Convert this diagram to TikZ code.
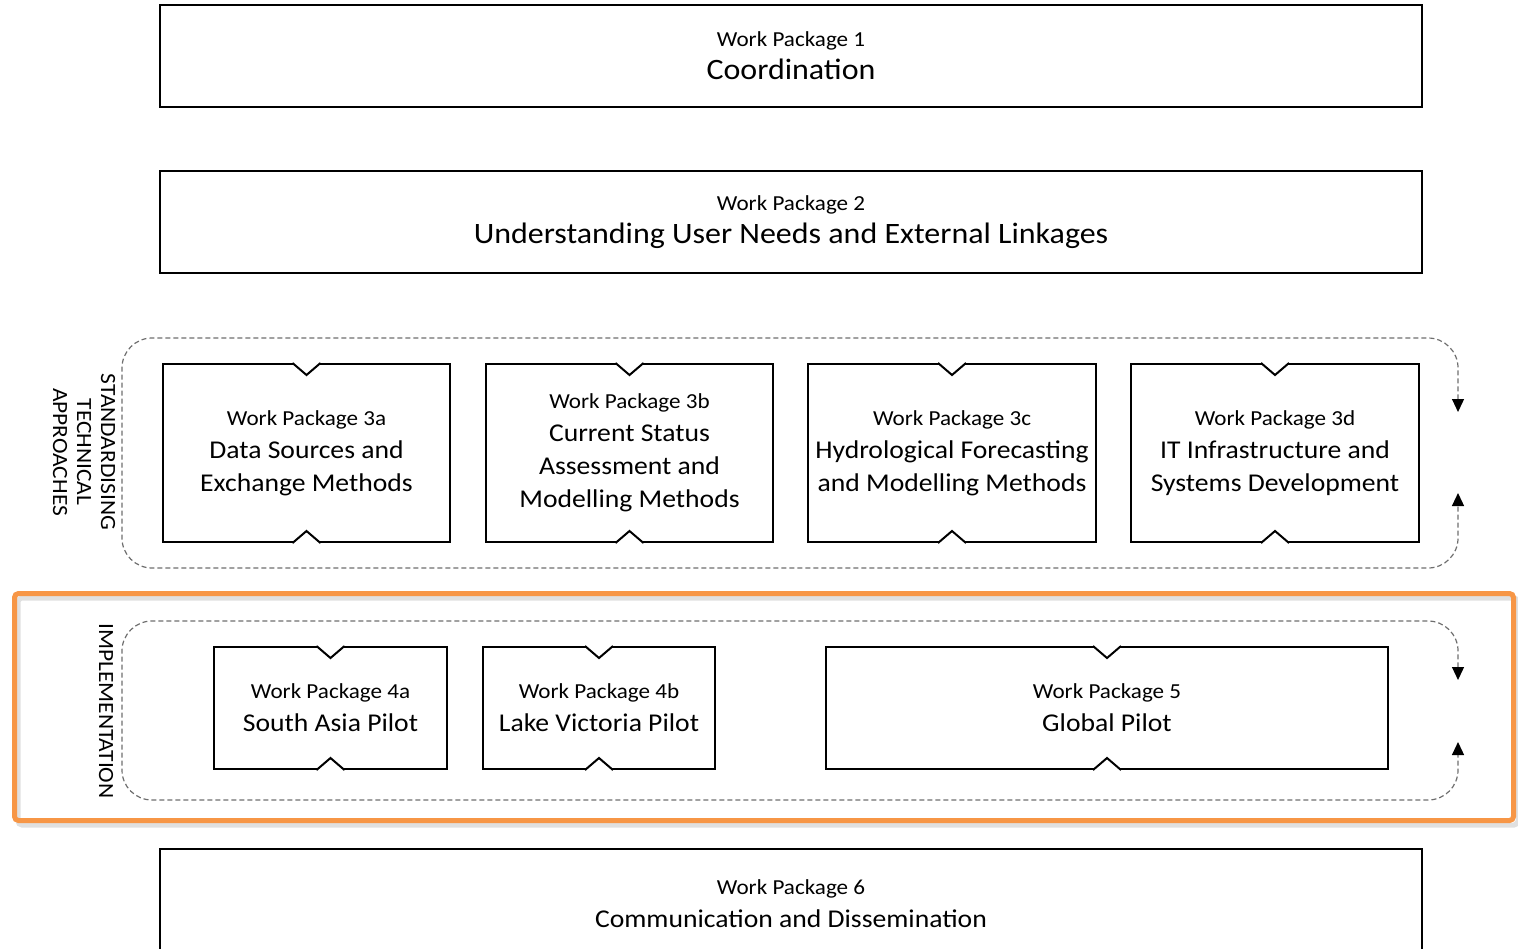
\documentclass[tikz,border=0pt]{standalone}
\usepackage{fontspec}
\setmainfont[FakeStretch = 1.08]{Carlito}
\usetikzlibrary{calc,arrows.meta}
\definecolor{frameOrange}{RGB}{247,150,70}
\definecolor{loopGray}{RGB}{110,110,110}
\tikzstyle{diagram} = [x = 0.5pt, y = -0.5pt]
\tikzstyle{packageBox} = [draw, line width = 1pt, align = center, inner sep = 0pt, font = \smallText]
\tikzstyle{loopLine} = [color = loopGray, line width = 0.6pt, dash pattern = on 2.5pt off 1.5pt, rounded corners = 15pt,
  {Triangle[length = 6.5pt, width = 6pt, color = black]}-{Triangle[length = 6.5pt, width = 6pt, color = black]}]
\tikzstyle{sideLabel} = [rotate = -90, align = center, inner sep = 0pt, font = \sideText]
\tikzset{boxSize/.style 2 args = {minimum width = #1 * 0.5pt, minimum height = #2 * 0.5pt}}
\newcommand{\smallText}{\fontsize{10.7}{16.5}\selectfont}
\newcommand{\bigText}{\fontsize{14.8}{16.5}\selectfont}
\newcommand{\midText}{\fontsize{12.8}{16.5}\selectfont}
\newcommand{\sideText}{\fontsize{10.85}{12}\selectfont}
\newcommand{\notchWidth}{14}
\newcommand{\notchDepth}{12}
% cut a small inward v into the top and bottom edge of a box
\newcommand{\notchedBox}[1]{
  \draw [white, line width = 2pt] ($(#1.north) + (-\notchWidth + 1, 0)$) -- ($(#1.north) + (\notchWidth - 1, 0)$);
  \draw [white, line width = 2pt] ($(#1.south) + (-\notchWidth + 1, 0)$) -- ($(#1.south) + (\notchWidth - 1, 0)$);
  \draw [line width = 1pt] ($(#1.north) + (-\notchWidth, 0)$) -- ($(#1.north) + (0, \notchDepth)$) -- ($(#1.north) + (\notchWidth, 0)$);
  \draw [line width = 1pt] ($(#1.south) + (-\notchWidth, 0)$) -- ($(#1.south) + (0, -\notchDepth)$) -- ($(#1.south) + (\notchWidth, 0)$);
}

\begin{document}
\begin{tikzpicture}[diagram]
  \useasboundingbox (0,0) rectangle (1518,948);
  \clip (0,0) rectangle (1518,948);

  % full width packages
  \node [packageBox, boxSize = {1262}{102}] (wpOne) at (791,56) {Work Package 1\\\bigText Coordination};
  \node [packageBox, boxSize = {1262}{102}] (wpTwo) at (791,222) {Work Package 2\\\bigText Understanding User Needs and External Linkages};
  \node [packageBox, boxSize = {1262}{110}] (wpSix) at (791,904) {Work Package 6\\\midText Communication and Dissemination};

  % standardising technical approaches
  \draw [loopLine] (1458,412) -- (1458,338) -- (122,338) -- (122,568) -- (1458,568) -- (1458,493);
  \node [sideLabel] (techLabel) at (84,452) {STANDARDISING\\TECHNICAL\\APPROACHES};
  \node [packageBox, boxSize = {287}{178}] (wpThreeA) at (306.5,453) {Work Package 3a\\\midText Data Sources and\\\midText Exchange Methods};
  \node [packageBox, boxSize = {287}{178}] (wpThreeB) at (629.5,453) {Work Package 3b\\\midText Current Status\\\midText Assessment and\\\midText Modelling Methods};
  \node [packageBox, boxSize = {288}{178}] (wpThreeC) at (952,453) {Work Package 3c\\\midText Hydrological Forecasting\\\midText and Modelling Methods};
  \node [packageBox, boxSize = {288}{178}] (wpThreeD) at (1275,453) {Work Package 3d\\\midText IT Infrastructure and\\\midText Systems Development};
  \foreach \pkg in {wpThreeA, wpThreeB, wpThreeC, wpThreeD} {
    \notchedBox{\pkg}
  }

  % implementation
  \draw [black!12, line width = 2.5pt, rounded corners = 2pt] (18,598) rectangle (1518,825);
  \draw [frameOrange, line width = 2.5pt, rounded corners = 2pt] (14.5,593.5) rectangle (1513.5,820.5);
  \draw [loopLine] (1458,680) -- (1458,621) -- (122,621) -- (122,800) -- (1458,800) -- (1458,742);
  \node [sideLabel] (implLabel) at (106,711) {IMPLEMENTATION};
  \node [packageBox, boxSize = {233}{122}] (wpFourA) at (330.5,708) {Work Package 4a\\\midText South Asia Pilot};
  \node [packageBox, boxSize = {232}{122}] (wpFourB) at (599,708) {Work Package 4b\\\midText Lake Victoria Pilot};
  \node [packageBox, boxSize = {562}{122}] (wpFive) at (1107,708) {Work Package 5\\\midText Global Pilot};
  \foreach \pkg in {wpFourA, wpFourB, wpFive} {
    \notchedBox{\pkg}
  }
\end{tikzpicture}
\end{document}
